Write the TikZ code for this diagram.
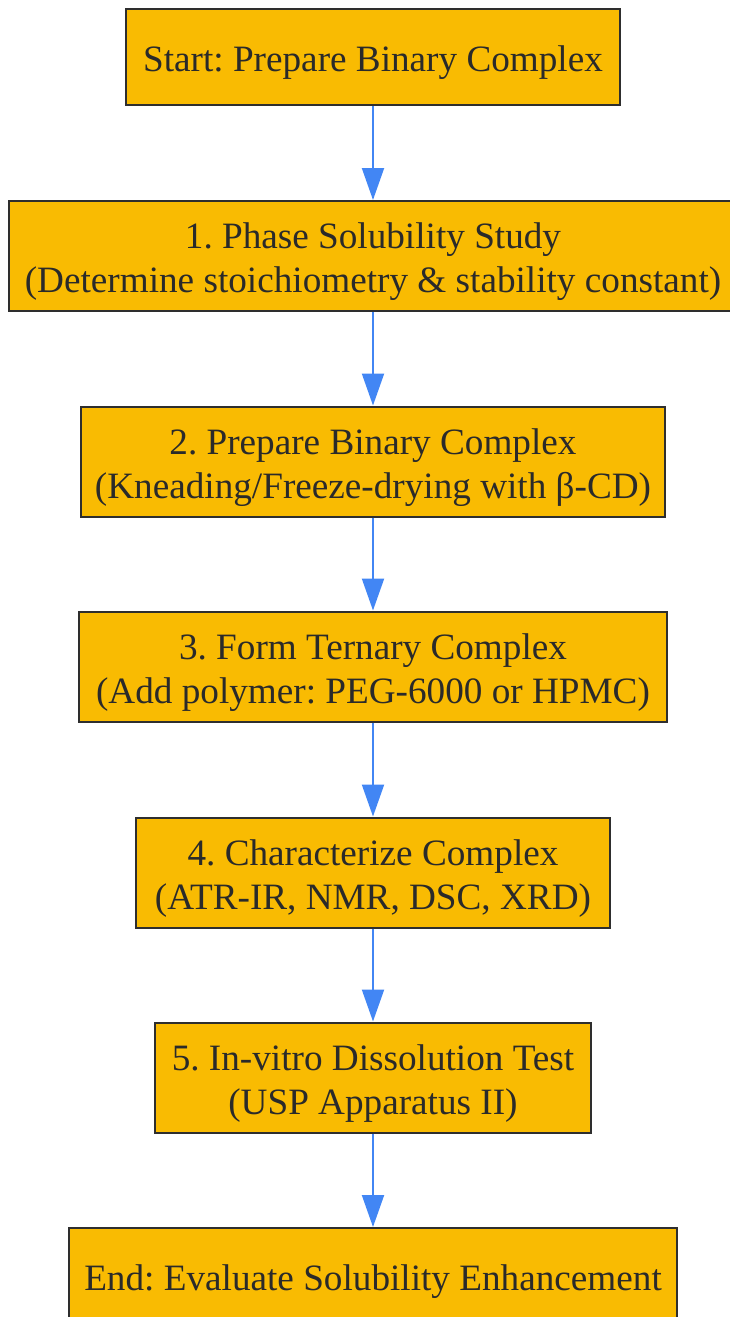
\documentclass[tikz,border=0pt]{standalone}
\usepackage{fontspec}
\setmainfont{Liberation Serif}
\usetikzlibrary{arrows.meta}
\definecolor{boxfill}{HTML}{F9BB02}
\definecolor{boxdraw}{HTML}{2E2E2E}
\definecolor{arrcol}{HTML}{4286F4}
\definecolor{txtcol}{HTML}{2A2A2A}
\frenchspacing
\begin{document}
\begin{tikzpicture}[x=1pt,y=-1pt,
  stepbox/.style={draw=boxdraw,line width=2pt,fill=boxfill,inner sep=0pt,
    align=center,text=txtcol,font=\fontsize{37.2}{44}\selectfont\frenchspacing,
    execute at begin node={\rule{0pt}{37.5pt}}},
  twobox/.style={stepbox,minimum height=110pt,
    execute at begin node={\rule{0pt}{82pt}}},
  arr/.style={draw=arrcol,line width=2pt,-{Triangle[width=22pt,length=32pt]}}]
\useasboundingbox (0,0) rectangle (729,1317);
\node[stepbox,minimum width=494pt,minimum height=96pt] (s) at (373,57) {Start: Prepare Binary Complex};
\node[twobox,minimum width=728pt] (b1) at (373,256) {1. Phase Solubility Study\\(Determine stoichiometry \& stability constant)};
\node[twobox,minimum width=584pt] (b2) at (373,461.5) {2. Prepare Binary Complex\\(Kneading/Freeze-drying with β-CD)};
\node[twobox,minimum width=588pt] (b3) at (373,666.5) {3. Form Ternary Complex\\(Add polymer: PEG-6000 or HPMC)};
\node[twobox,minimum width=474pt] (b4) at (373,872.5) {4. Characterize Complex\\(ATR-IR, NMR, DSC, XRD)};
\node[twobox,minimum width=436pt] (b5) at (373,1077.5) {5. In-vitro Dissolution Test\\(USP Apparatus II)};
\node[stepbox,minimum width=608pt,minimum height=96pt] (e) at (373,1276) {End: Evaluate Solubility Enhancement};
\draw[arr] (s.south) -- (b1.north);
\draw[arr] (b1.south) -- (b2.north);
\draw[arr] (b2.south) -- (b3.north);
\draw[arr] (b3.south) -- (b4.north);
\draw[arr] (b4.south) -- (b5.north);
\draw[arr] (b5.south) -- (e.north);
\end{tikzpicture}
\end{document}
